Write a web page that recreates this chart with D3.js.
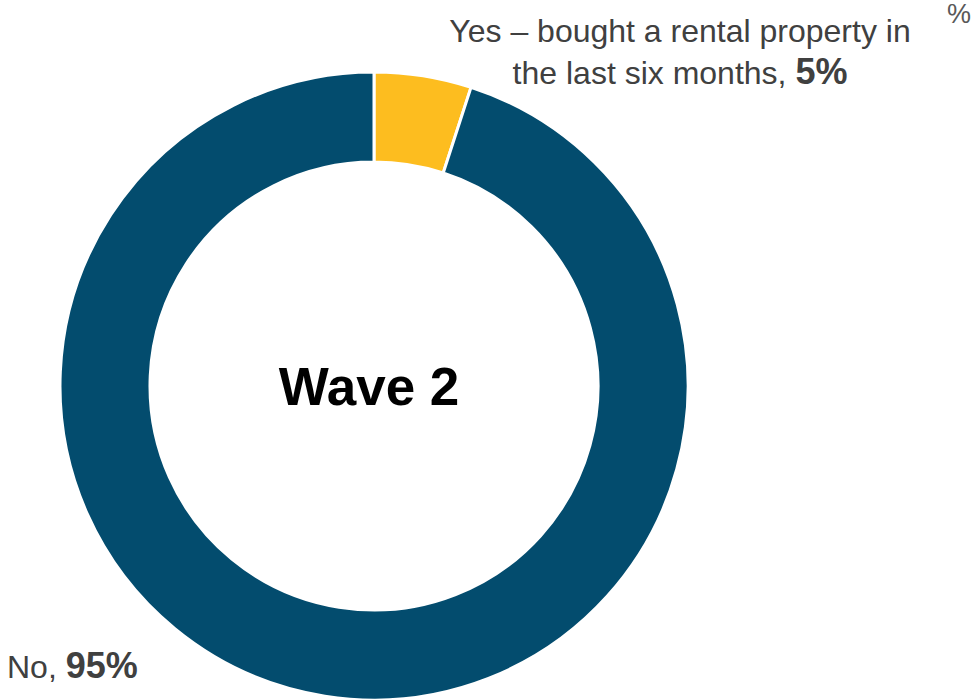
<!DOCTYPE html>
<html>
<head>
<meta charset="utf-8">
<script src="https://cdn.jsdelivr.net/npm/d3@7"></script>
<style>
  html, body { margin: 0; padding: 0; background: #fff; }
  svg { display: block; font-family: "Liberation Sans", Arial, sans-serif; }
</style>
</head>
<body>
<svg id="chart" width="975" height="700"></svg>
<script>
// Survey responses: share who bought a rental property
const categories = ["Yes – bought a rental property in the last six months", "No"];
const values = [5, 95];
const colors = ["#FDBD1F", "#034C6E"];
const centerTitle = "Wave 2";

const svg = d3.select("#chart");
const cx = 374, cy = 386, outerR = 314, innerR = 224;

const pie = d3.pie().sort(null).value(d => d)(values);
const arc = d3.arc().innerRadius(innerR).outerRadius(outerR);

const g = svg.append("g").attr("transform", `translate(${cx},${cy})`);
g.selectAll("path")
  .data(pie)
  .join("path")
  .attr("d", arc)
  .attr("fill", (d, i) => colors[i])
  .attr("stroke", "#fff")
  .attr("stroke-width", 3);

g.append("text")
  .attr("x", -5)
  .attr("y", 19)
  .attr("text-anchor", "middle")
  .attr("font-size", 53)
  .attr("font-weight", "bold")
  .attr("fill", "#000")
  .text(centerTitle);

const labelColor = "#404040";

// Yes label (two lines)
const yes = svg.append("text")
  .attr("text-anchor", "middle")
  .attr("font-size", 32)
  .attr("fill", labelColor);
yes.append("tspan").attr("x", 680).attr("y", 42).text("Yes – bought a rental property in");
const yes2 = yes.append("tspan").attr("x", 680).attr("y", 84);
yes2.append("tspan").text("the last six months, ");
yes2.append("tspan").attr("font-weight", "bold").attr("font-size", 36).text(values[0] + "%");

// No label
const no = svg.append("text")
  .attr("x", 7)
  .attr("y", 678)
  .attr("font-size", 32)
  .attr("fill", labelColor);
no.append("tspan").text("No, ");
no.append("tspan").attr("font-weight", "bold").attr("font-size", 36).text(values[1] + "%");

// Unit marker
svg.append("text")
  .attr("x", 959)
  .attr("y", 23)
  .attr("text-anchor", "middle")
  .attr("font-size", 27)
  .attr("fill", "#595959")
  .text("%");
</script>
</body>
</html>
